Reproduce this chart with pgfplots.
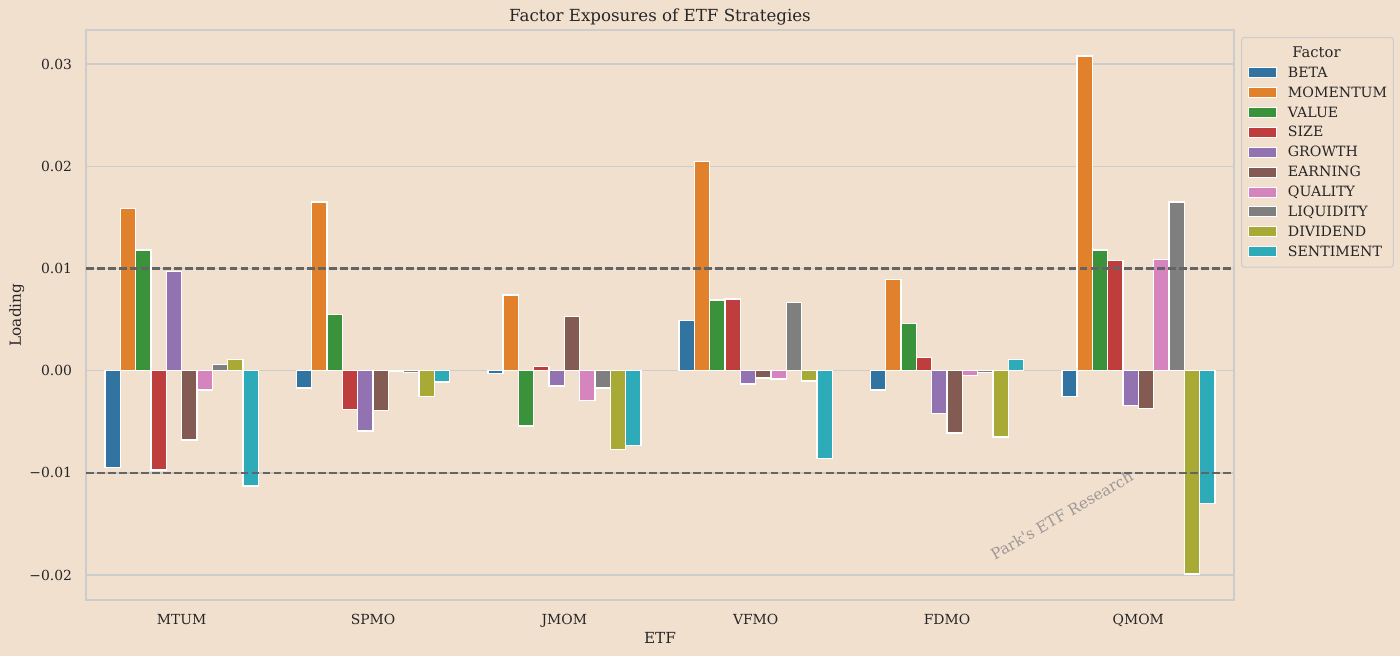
\documentclass[border=0pt]{standalone}
\usepackage{fontspec}
\setmainfont{DejaVu Serif}
\usepackage{pgfplots}
\pgfplotsset{compat=1.18}
\definecolor{bgcol}{RGB}{242,224,207}
\definecolor{gridc}{RGB}{204,204,204}
\definecolor{dashc}{RGB}{100,100,100}
\definecolor{cBETA}{RGB}{50,116,161}
\definecolor{cMOM}{RGB}{225,129,44}
\definecolor{cVAL}{RGB}{58,146,58}
\definecolor{cSIZE}{RGB}{192,61,62}
\definecolor{cGRO}{RGB}{147,114,178}
\definecolor{cEARN}{RGB}{132,91,83}
\definecolor{cQUAL}{RGB}{214,132,189}
\definecolor{cLIQ}{RGB}{127,127,127}
\definecolor{cDIV}{RGB}{169,170,53}
\definecolor{cSENT}{RGB}{46,171,184}
\begin{document}
\begin{tikzpicture}
\fill[bgcol] (0,0) rectangle (1008pt,472.32pt);
\begin{axis}[
  at={(61.92pt,40.32pt)}, anchor=south west,
  scale only axis, width=826.56pt, height=410.4pt,
  xmin=-0.5, xmax=5.5, ymin=-0.02244, ymax=0.03334,
  ybar=0pt, bar width=0.08,
  xtick={0,1,2,3,4,5}, xticklabels={MTUM,SPMO,JMOM,VFMO,FDMO,QMOM},
  ytick={-0.02,-0.01,0,0.01,0.02,0.03},
  yticklabels={−0.02,−0.01,0.00,0.01,0.02,0.03},
  scaled y ticks=false,
  major tick length=0pt,
  ymajorgrids, grid style={draw=gridc, line width=1pt},
  axis line style={draw=gridc, line width=1.25pt},
  axis background/.style={fill=bgcol},
  tick label style={font=\fontsize{10}{12}\selectfont, text=black!85},
  xticklabel style={anchor=base, inner sep=0pt, yshift=-17.3pt},
  yticklabel style={anchor=east, inner sep=0pt, xshift=-9.9pt},
  every axis title shift=0pt,
  title={Factor Exposures of ETF Strategies},
  title style={at={(axis description cs:0.5,1.0228)}, anchor=center, font=\fontsize{12}{14}\selectfont, text=black!85},
  xlabel={ETF},
  xlabel style={at={(axis description cs:0.5,-0.0661)}, anchor=center, font=\fontsize{11}{13}\selectfont, text=black!85},
  ylabel={Loading},
  ylabel style={at={(axis description cs:-0.0604,0.5)}, anchor=center, rotate=0, font=\fontsize{11}{13}\selectfont, text=black!85},
  legend cell align=left,
  legend style={at={(1.0061,0.9877)}, anchor=north west, draw=gridc, line width=0.8pt, fill=bgcol, rounded corners=2pt,
    font=\fontsize{10.2}{12}\selectfont, text=black!85, inner xsep=4.5pt, inner ysep=4pt, row sep=0pt,
    nodes={inner sep=0pt, text height=10.3pt, text depth=4pt}},
  legend image code/.code={\draw[#1, sharp corners, solid, draw=white, line width=0.7pt] (0pt,-3.6pt) rectangle (20.6pt,3.6pt); \path[draw=none, fill=none] (0pt,0pt) -- (28.5pt,0pt);},
  every axis plot/.append style={draw=white, line width=1pt},
]
\addlegendimage{empty legend}
\addlegendentry{\fontsize{10.6}{12}\selectfont\hspace{3.3pt}Factor}
\addplot[fill=cBETA, bar shift=-0.36] coordinates {(0,-0.0095) (1,-0.0017) (2,-0.0003) (3,0.0049) (4,-0.0019) (5,-0.0025)};
\addlegendentry{BETA}
\addplot[fill=cMOM, bar shift=-0.28] coordinates {(0,0.0159) (1,0.0165) (2,0.0074) (3,0.0205) (4,0.0089) (5,0.0308)};
\addlegendentry{MOMENTUM}
\addplot[fill=cVAL, bar shift=-0.20] coordinates {(0,0.0118) (1,0.0055) (2,-0.0054) (3,0.0069) (4,0.0046) (5,0.0118)};
\addlegendentry{VALUE}
\addplot[fill=cSIZE, bar shift=-0.12] coordinates {(0,-0.0097) (1,-0.0038) (2,0.0004) (3,0.0070) (4,0.0013) (5,0.0108)};
\addlegendentry{SIZE}
\addplot[fill=cGRO, bar shift=-0.04] coordinates {(0,0.0097) (1,-0.0059) (2,-0.0015) (3,-0.0013) (4,-0.0042) (5,-0.0034)};
\addlegendentry{GROWTH}
\addplot[fill=cEARN, bar shift=0.04] coordinates {(0,-0.0068) (1,-0.0039) (2,0.0053) (3,-0.0007) (4,-0.0061) (5,-0.0037)};
\addlegendentry{EARNING}
\addplot[fill=cQUAL, bar shift=0.12] coordinates {(0,-0.0019) (1,-0.00005) (2,-0.0029) (3,-0.0008) (4,-0.00045) (5,0.0109)};
\addlegendentry{QUALITY}
\addplot[fill=cLIQ, bar shift=0.20] coordinates {(0,0.0006) (1,-0.0002) (2,-0.0017) (3,0.0067) (4,-0.0002) (5,0.0165)};
\addlegendentry{LIQUIDITY}
\addplot[fill=cDIV, bar shift=0.28] coordinates {(0,0.0011) (1,-0.0025) (2,-0.0077) (3,-0.0010) (4,-0.0065) (5,-0.0199)};
\addlegendentry{DIVIDEND}
\addplot[fill=cSENT, bar shift=0.36] coordinates {(0,-0.0113) (1,-0.0011) (2,-0.0073) (3,-0.0086) (4,0.0011) (5,-0.0130)};
\addlegendentry{SENTIMENT}
\addplot[forget plot, sharp plot, draw=dashc, line width=1.5pt, dash pattern=on 5.55pt off 2.4pt] coordinates {(-0.5,0.01) (5.5,0.01)};
\addplot[forget plot, sharp plot, draw=dashc, line width=1.5pt, dash pattern=on 5.55pt off 2.4pt] coordinates {(-0.5,-0.01) (5.5,-0.01)};
\node[rotate=30, text=gray, opacity=0.75, font=\fontsize{11}{13}\selectfont] at (axis cs:4.6,-0.01416) {Park\textquotesingle s ETF Research};
\end{axis}
\pgfresetboundingbox
\useasboundingbox (0,0) rectangle (1008pt,472.32pt);
\end{tikzpicture}
\end{document}
